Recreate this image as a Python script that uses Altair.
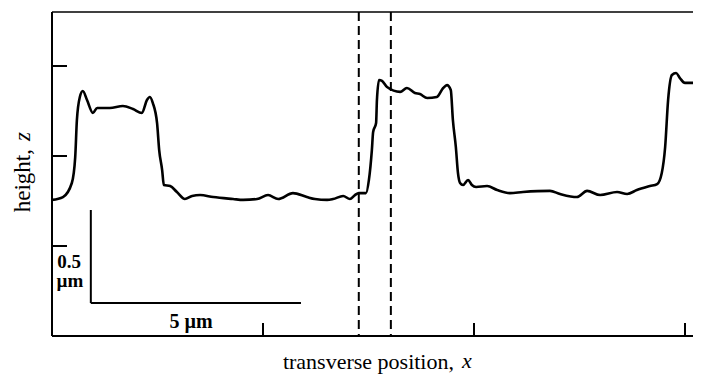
import altair as alt
import pandas as pd

# transverse position (µm) and height (µm)
x_um = [0.00, 0.26, 0.47, 0.55, 0.59, 0.66, 0.73, 0.83, 0.97, 1.07, 1.37, 1.68,
        1.92, 2.13, 2.25, 2.32, 2.39, 2.49, 2.54, 2.61, 2.65, 2.80, 2.96, 3.15,
        3.32, 3.51, 3.82, 4.29, 4.53, 4.86, 5.12, 5.36, 5.71, 6.04, 6.23, 6.52,
        6.66, 6.90, 7.06, 7.18, 7.27, 7.44, 7.51, 7.58, 7.61, 7.68, 7.70, 7.75,
        7.82, 7.94, 8.25, 8.41, 8.60, 8.72, 8.89, 9.12, 9.27, 9.36, 9.45, 9.50,
        9.57, 9.62, 9.67, 9.74, 9.86, 9.95, 10.05, 10.31, 10.55, 10.85, 11.16,
        11.80, 12.04, 12.44, 12.68, 12.99, 13.39, 13.63, 13.86, 14.17, 14.34,
        14.45, 14.53, 14.60, 14.69, 14.79, 14.88, 15.00, 15.36]
z_um = [0.756, 0.772, 0.850, 0.994, 1.200, 1.328, 1.361, 1.311, 1.239, 1.267,
        1.267, 1.278, 1.261, 1.239, 1.311, 1.328, 1.294, 1.183, 1.033, 0.922,
        0.839, 0.833, 0.800, 0.761, 0.778, 0.783, 0.772, 0.761, 0.756, 0.761,
        0.783, 0.761, 0.794, 0.772, 0.761, 0.756, 0.761, 0.778, 0.761, 0.783,
        0.794, 0.794, 0.867, 1.033, 1.133, 1.183, 1.311, 1.422, 1.417, 1.383,
        1.356, 1.378, 1.350, 1.344, 1.322, 1.328, 1.378, 1.394, 1.367, 1.200,
        1.050, 0.906, 0.850, 0.839, 0.867, 0.839, 0.828, 0.833, 0.811, 0.794,
        0.800, 0.806, 0.789, 0.772, 0.806, 0.783, 0.800, 0.789, 0.811, 0.833,
        0.844, 0.906, 1.050, 1.311, 1.450, 1.461, 1.433, 1.406, 1.406]

x_ticks = [5, 10, 15]
y_ticks = [0.5, 1.0, 1.5]
dashed_x = [7.27, 8.03]
bar_x = [0.92, 5.90]
bar_z = [0.183, 0.70]
x_domain = [0, 15.19]
z_domain = [0, 1.8]

W, H = 641, 324
FONT = "'Liberation Serif', 'Times New Roman', 'DejaVu Serif', serif"

xs = alt.Scale(domain=x_domain, nice=False, zero=False)
ys = alt.Scale(domain=z_domain, nice=False, zero=False)

prof = pd.DataFrame({"x": x_um, "z": z_um})
line = alt.Chart(prof).mark_line(color="black", strokeWidth=2.6, interpolate="monotone",
                                 clip=True).encode(
    x=alt.X("x:Q", scale=xs, axis=None),
    y=alt.Y("z:Q", scale=ys, axis=None),
)

dash = alt.Chart(pd.DataFrame({"x": dashed_x})).mark_rule(
    color="black", strokeWidth=2, strokeDash=[9, 5]
).encode(x=alt.X("x:Q", scale=xs), y=alt.value(0), y2=alt.value(H))

ytk = alt.Chart(pd.DataFrame({"z": y_ticks})).mark_rule(color="black", strokeWidth=2).encode(
    y=alt.Y("z:Q", scale=ys), x=alt.value(0), x2=alt.value(15))
xtk = alt.Chart(pd.DataFrame({"x": x_ticks})).mark_rule(color="black", strokeWidth=2).encode(
    x=alt.X("x:Q", scale=xs), y=alt.value(H - 13), y2=alt.value(H))

frame_df = pd.DataFrame({"side": ["left", "bottom", "top"]})
left = alt.Chart(frame_df.iloc[[0]]).mark_rule(color="black", strokeWidth=2).encode(
    x=alt.value(0), y=alt.value(0), y2=alt.value(H))
bottom = alt.Chart(frame_df.iloc[[1]]).mark_rule(color="black", strokeWidth=2).encode(
    x=alt.value(0), x2=alt.value(W), y=alt.value(H))
top = alt.Chart(frame_df.iloc[[2]]).mark_rule(color="black", strokeWidth=1.5).encode(
    x=alt.value(0), x2=alt.value(W), y=alt.value(0))

bar_v = alt.Chart(pd.DataFrame({"x": [bar_x[0]], "z0": [bar_z[0]], "z1": [bar_z[1]]})).mark_rule(
    color="black", strokeWidth=2).encode(
    x=alt.X("x:Q", scale=xs), y=alt.Y("z0:Q", scale=ys), y2="z1:Q")
bar_h = alt.Chart(pd.DataFrame({"x0": [bar_x[0]], "x1": [bar_x[1]], "z": [bar_z[0]]})).mark_rule(
    color="black", strokeWidth=2).encode(
    x=alt.X("x0:Q", scale=xs), x2="x1:Q", y=alt.Y("z:Q", scale=ys))


def txt(s, x, y, size=19, align="center", angle=0, style="normal", weight="normal"):
    return alt.Chart(pd.DataFrame({"t": [s]})).mark_text(
        font=FONT, fontSize=size, align=align, baseline="middle", angle=angle,
        fontStyle=style, fontWeight=weight, color="black"
    ).encode(text="t:N", x=alt.value(x), y=alt.value(y))


labels = [
    txt("transverse position,", 402, 350, size=22, align="right"),
    txt("x", 410, 349, size=22, align="left", style="italic"),
    txt("height,", -29, 137, size=23, align="right", angle=270),
    txt("z", -29, 129, size=23, align="left", angle=270, style="italic"),
    txt("0.5", 17, 250, size=19, weight="bold"),
    txt("µm", 18, 269, size=19, weight="bold"),
    txt("5 µm", 139, 310, size=20, weight="bold"),
]

chart = alt.layer(line, dash, ytk, xtk, left, bottom, top, bar_v, bar_h, *labels).properties(
    width=W, height=H,
    autosize=alt.AutoSizeParams(type="none"),
    padding={"left": 44, "top": 4, "right": 0, "bottom": 40},
).configure_view(stroke=None)

chart.save("out.html", embed_options={"renderer": "svg", "actions": False})
